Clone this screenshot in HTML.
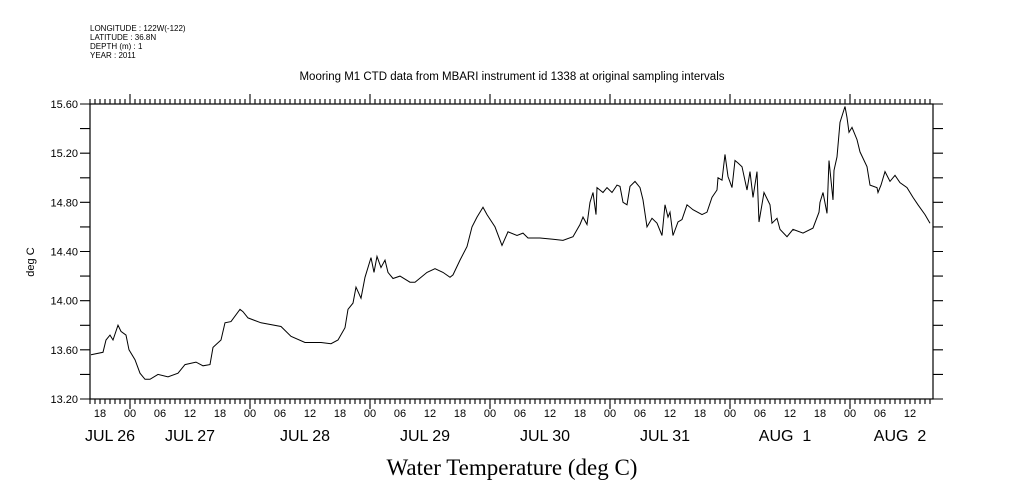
<!DOCTYPE html>
<html><head><meta charset="utf-8"><style>
body{margin:0;background:#fff;width:1009px;height:504px;overflow:hidden}
svg{display:block}
text{font-family:"Liberation Sans",sans-serif;fill:#000}
</style></head><body>
<svg id="chart" width="1009" height="504" viewBox="0 0 1009 504" xmlns="http://www.w3.org/2000/svg">
<g font-size="8">
<text x="90" y="31">LONGITUDE : 122W(-122)</text>
<text x="90" y="40">LATITUDE : 36.8N</text>
<text x="90" y="49">DEPTH (m) : 1</text>
<text x="90" y="58">YEAR : 2011</text>
</g>
<text x="512" y="80" font-size="11.5" text-anchor="middle">Mooring M1 CTD data from MBARI instrument id 1338 at original sampling intervals</text>
<text x="34" y="262" font-size="11" text-anchor="middle" transform="rotate(-90 34 262)">deg C</text>
<text x="512" y="475" font-size="23" text-anchor="middle" style="font-family:'Liberation Serif',serif">Water Temperature (deg C)</text>
<g id="axes"></g>
<g id="series"></g>
</svg>
<script>
// hours since JUL 26 16:00
const hours=[0.2,2.6,3.2,4.0,4.6,5.6,6.2,7.2,7.8,9.0,10.0,11.0,12.0,13.6,15.6,17.6,19.0,21.2,22.6,24.0,24.6,26.2,27.0,28.2,30.0,30.6,31.6,34.2,38.2,40.2,43.0,46.2,48.2,49.6,51.0,51.6,52.6,53.2,54.2,55.0,56.2,56.8,57.4,58.2,59.0,59.6,60.6,62.0,64.0,65.0,67.4,69.0,70.6,72.0,72.6,74.0,75.4,76.4,77.4,78.6,79.4,81.0,82.4,83.6,85.4,86.6,87.6,90.0,92.6,94.6,96.6,98.0,98.6,99.4,100.0,100.6,101.2,101.4,102.6,103.4,104.4,105.4,106.0,106.6,107.4,108.0,109.0,110.0,110.6,111.4,112.4,113.4,114.4,115.0,115.6,116.0,116.6,117.6,118.4,119.4,120.6,122.4,123.4,124.4,125.4,125.6,126.4,127.0,127.6,128.4,129.0,129.6,130.4,131.4,132.0,132.6,133.4,133.8,134.8,136.0,136.4,137.4,138.0,139.4,140.6,142.6,144.6,145.8,146.0,146.6,147.4,147.8,148.6,148.8,149.4,150.0,151.0,151.4,151.8,152.4,153.4,154.0,155.4,156.0,157.4,157.6,158.2,159.0,160.0,161.0,162.0,163.4,164.6,165.6,167.0,168.0];
const temps=[13.56,13.58,13.68,13.72,13.68,13.80,13.75,13.72,13.60,13.52,13.41,13.36,13.36,13.40,13.38,13.41,13.48,13.50,13.47,13.48,13.62,13.68,13.82,13.83,13.93,13.91,13.86,13.82,13.79,13.71,13.66,13.66,13.65,13.68,13.78,13.93,13.98,14.11,14.02,14.19,14.35,14.23,14.36,14.27,14.33,14.23,14.18,14.20,14.15,14.15,14.23,14.26,14.23,14.19,14.21,14.33,14.44,14.60,14.68,14.76,14.70,14.60,14.45,14.56,14.53,14.55,14.51,14.51,14.50,14.49,14.52,14.62,14.68,14.62,14.80,14.88,14.70,14.92,14.88,14.92,14.88,14.94,14.93,14.80,14.78,14.93,14.97,14.92,14.82,14.60,14.67,14.63,14.53,14.78,14.68,14.72,14.53,14.64,14.66,14.78,14.74,14.70,14.72,14.84,14.90,15.00,14.98,15.19,15.01,14.92,15.14,15.12,15.09,14.90,15.05,14.84,15.05,14.64,14.88,14.78,14.63,14.67,14.58,14.52,14.58,14.55,14.59,14.72,14.80,14.88,14.71,15.14,14.82,15.06,15.17,15.45,15.58,15.49,15.37,15.41,15.31,15.21,15.09,14.94,14.92,14.88,14.94,15.05,14.97,15.02,14.96,14.92,14.84,14.78,14.70,14.63];
const yTicks=[13.20,13.60,14.00,14.40,14.80,15.20,15.60];
const hourLabels=["18","00","06","12"];
const dateLabels=["JUL 26","JUL 27","JUL 28","JUL 29","JUL 30","JUL 31","AUG  1","AUG  2"];
const dateLabelHours=[4,20,43,67,91,115,139,162];

const L=90,R=933,T=104,B=399,H0=16;
const xs=h=>L+h*5;
const ys=v=>B-(v-13.2)/2.4*(B-T);
const NS="http://www.w3.org/2000/svg";
const ax=document.getElementById('axes'),se=document.getElementById('series');
function mk(tag,at,par){const e=document.createElementNS(NS,tag);for(const k in at)e.setAttribute(k,at[k]);par.appendChild(e);return e;}
const frame=mk('rect',{x:L,y:T,width:R-L,height:B-T,fill:'none',stroke:'#000','stroke-width':1.2},ax);


let d='';
for(let h=0;xs(h)<=R;h++){
  const x=xs(h).toFixed(1),maj=((h+H0)%24===0);
  d+=`M${x} ${B}V${B+(maj?10:5)}M${x} ${T}V${T-(maj?10:5)}`;
  if((h+H0)%6===0){
    const t=mk('text',{x:x,y:B+18,'font-size':11,'text-anchor':'middle'},ax);
    t.textContent=hourLabels[((h+H0)%24)/6===3?0:((h+H0)%24)/6+1];
    
    
  }
}
for(let v=13.2;v<=15.61;v+=0.2){const y=ys(v).toFixed(1);d+=`M${L} ${y}H${L-10}M${R} ${y}H${R+10}`;}
const tk=mk('path',{d:d,stroke:'#000','stroke-width':1.1,fill:'none'},ax);


yTicks.forEach(v=>{const t=mk('text',{x:78,y:ys(v)+4,'font-size':11,'text-anchor':'end'},ax);t.textContent=v.toFixed(2);

});
dateLabels.forEach((s,i)=>{const t=mk('text',{x:xs(dateLabelHours[i]),y:441,'font-size':16,'text-anchor':'middle','xml:space':'preserve'},ax);t.textContent=s;t.style.whiteSpace='pre';

});
const p=mk('polyline',{points:hours.map((h,i)=>xs(h).toFixed(1)+','+ys(temps[i]).toFixed(1)).join(' '),fill:'none',stroke:'#000','stroke-width':1},se);


</script>
</body></html>
